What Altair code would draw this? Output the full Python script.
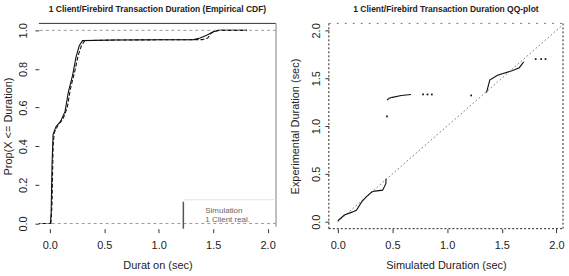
import altair as alt
import pandas as pd

# Empirical CDF of transaction duration (seconds), simulated vs. measured
sim_x = [-0.10, 0.005, 0.012, 0.02, 0.03, 0.055, 0.10, 0.14, 0.17, 0.21, 0.24, 0.27, 0.30,
         0.60, 1.00, 1.32, 1.38, 1.44, 1.50, 1.55, 1.81]
sim_y = [0.00, 0.00, 0.05, 0.30, 0.46, 0.50, 0.53, 0.58, 0.68, 0.77, 0.86, 0.92, 0.947,
         0.950, 0.951, 0.952, 0.960, 0.975, 0.993, 1.00, 1.00]
real_x = [-0.10, 0.01, 0.02, 0.03, 0.04, 0.075, 0.12, 0.16, 0.19, 0.23, 0.26, 0.29, 0.32,
          0.60, 1.00, 1.40, 1.45, 1.48, 1.52, 1.55, 1.81]
real_y = [0.00, 0.00, 0.10, 0.40, 0.47, 0.51, 0.54, 0.60, 0.70, 0.79, 0.87, 0.92, 0.947,
          0.950, 0.951, 0.952, 0.960, 0.985, 0.997, 1.00, 1.00]
legend_labels = ["Simulation", "1 Client real."]

# QQ-plot: simulated quantiles (x) against experimental quantiles (y)
qq_low_x = [0.00, 0.06, 0.13, 0.17, 0.22, 0.26, 0.31, 0.34, 0.41, 0.44, 0.44]
qq_low_y = [0.01, 0.07, 0.10, 0.12, 0.21, 0.26, 0.31, 0.32, 0.33, 0.40, 0.45]
qq_upper_x = [0.45, 0.47, 0.50, 0.58, 0.67]
qq_upper_y = [1.27, 1.29, 1.30, 1.32, 1.33]
qq_mid_x = [1.36, 1.39, 1.46, 1.60, 1.66, 1.70]
qq_mid_y = [1.35, 1.48, 1.53, 1.58, 1.61, 1.67]
qq_dot_x = [0.45, 0.78, 0.82, 0.86, 1.22, 1.81, 1.86, 1.90]
qq_dot_y = [1.10, 1.33, 1.33, 1.33, 1.32, 1.70, 1.70, 1.70]
identity = [0.0, 2.05]

FONT = "Liberation Sans"
LW, RW, H = 238, 235, 206

ecdf_x = alt.Scale(domain=[-0.1006, 2.077], nice=False, zero=False)
ecdf_y = alt.Scale(domain=[-0.027, 1.036], nice=False, zero=False)
qq_xs = alt.Scale(domain=[-0.082, 2.06], nice=False, zero=False)
qq_ys = alt.Scale(domain=[-0.073, 2.073], nice=False, zero=False)


def xaxis(title, vals):
    return alt.Axis(title=title, values=vals, format=".1f", labelPadding=7,
                    titlePadding=9)


def yaxis(title, vals, lp, tp):
    return alt.Axis(title=title, values=vals, format=".1f", labelAngle=270,
                    labelAlign="center", labelBaseline="bottom", labelPadding=lp,
                    titlePadding=tp)


# shared encodings for the ECDF panel
EX = alt.X("d:Q", scale=ecdf_x, axis=xaxis("Durat on (sec)", [0, 0.5, 1, 1.5, 2]))
EY = alt.Y("p:Q", scale=ecdf_y,
           axis=yaxis("Prop(X <= Duration)", [0, 0.2, 0.4, 0.6, 0.8, 1.0], 6, 4))

ecdf_df = pd.concat([
    pd.DataFrame({"d": sim_x, "p": sim_y, "s": legend_labels[0]}),
    pd.DataFrame({"d": real_x, "p": real_y, "s": legend_labels[1]}),
])
base_l = alt.Chart(ecdf_df)

sim_line = base_l.transform_filter(alt.datum.s == legend_labels[0]).mark_line(
    color="#111", strokeWidth=1.1
).encode(x=EX, y=EY, order="d:Q")
real_line = base_l.transform_filter(alt.datum.s == legend_labels[1]).mark_line(
    color="#111", strokeWidth=1.1, strokeDash=[4, 2]
).encode(x=EX, y=EY, order="d:Q")

# horizontal guides at P = 0 and P = 1
ref_l = alt.Chart(pd.DataFrame({"p": [0.0, 1.0]})).mark_rule(
    color="#9a9a9a", strokeDash=[3, 3], strokeWidth=1
).encode(y=EY)

one = pd.DataFrame({"k": [0]})
frame_top = alt.Chart(one).mark_rule(color="#333", strokeWidth=1).encode(
    x=alt.value(0), x2=alt.value(LW), y=alt.value(0))
frame_right = alt.Chart(one).mark_rule(color="#aaa", strokeWidth=1.5).encode(
    x=alt.value(LW), y=alt.value(0), y2=alt.value(H - 2))
leg_edge = alt.Chart(one).mark_rule(color="#555", strokeWidth=1.5).encode(
    x=alt.value(145), y=alt.value(179), y2=alt.value(H))
leg_top = alt.Chart(one).mark_rule(color="#e4e4e4", strokeWidth=1).encode(
    x=alt.value(145), x2=alt.value(LW), y=alt.value(177))
leg_text = [
    alt.Chart(pd.DataFrame({"t": [lab]})).mark_text(
        align="left", baseline="middle", font=FONT, fontSize=8, color="#666"
    ).encode(text="t:N", x=alt.value(167), y=alt.value(yy))
    for lab, yy in zip(legend_labels, [188, 197])
]

left = alt.layer(sim_line, real_line, ref_l, frame_top, frame_right, leg_edge, leg_top,
                 *leg_text).properties(
    width=LW, height=H,
    title=alt.TitleParams("1 Client/Firebird Transaction Duration (Empirical CDF)",
                          font=FONT, fontSize=8.5, fontWeight="bold", color="#222",
                          offset=9, anchor="middle"),
)

# QQ panel
def seg(xs, ys, name):
    return pd.DataFrame({"sim": xs, "exp": ys, "g": name})

qq_lines = pd.concat([seg(qq_low_x, qq_low_y, "low"), seg(qq_upper_x, qq_upper_y, "upper"),
                      seg(qq_mid_x, qq_mid_y, "mid")])
QX = alt.X("sim:Q", scale=qq_xs, axis=xaxis("Simulated Duration (sec)", [0, 0.5, 1, 1.5, 2]))
QY = alt.Y("exp:Q", scale=qq_ys,
           axis=yaxis("Experimental Duration (sec)", [0, 0.5, 1, 1.5, 2], 3, 10))

ident = alt.Chart(pd.DataFrame({"sim": identity, "exp": identity})).mark_line(
    color="#222", strokeWidth=1, strokeDash=[1, 3]
).encode(x=QX, y=QY)
curves = alt.Chart(qq_lines).mark_line(color="#111", strokeWidth=1.1).encode(
    x=QX, y=QY, detail="g:N")
dots = alt.Chart(pd.DataFrame({"sim": qq_dot_x, "exp": qq_dot_y})).mark_square(
    color="#111", size=3, opacity=1
).encode(x=QX, y=QY)

b_left = alt.Chart(one).mark_rule(color="#222", strokeDash=[2, 2]).encode(
    x=alt.value(0), y=alt.value(0), y2=alt.value(H))
b_right = alt.Chart(one).mark_rule(color="#222", strokeDash=[2, 2]).encode(
    x=alt.value(RW), y=alt.value(0), y2=alt.value(H))
b_bottom = alt.Chart(one).mark_rule(color="#222", strokeDash=[2, 2]).encode(
    x=alt.value(0), x2=alt.value(RW), y=alt.value(H))
b_top = alt.Chart(one).mark_rule(color="#777", strokeDash=[2, 6]).encode(
    x=alt.value(0), x2=alt.value(RW), y=alt.value(0))

right = alt.layer(ident, curves, dots, b_left, b_right, b_bottom, b_top).properties(
    width=RW, height=H,
    title=alt.TitleParams("1 Client/Firebird Transaction Duration QQ-plot",
                          font=FONT, fontSize=8.5, fontWeight="bold", color="#222",
                          offset=9, anchor="middle"),
)

chart = alt.hconcat(left, right, spacing=53, bounds="flush").properties(
    padding={"left": 2, "top": 4, "right": 4, "bottom": 2},
    background="white",
).configure_view(strokeWidth=0).configure_axis(
    grid=False, domain=False, labelFont=FONT, titleFont=FONT, labelFontSize=11,
    titleFontSize=11, titleFontWeight="normal", labelColor="#222", titleColor="#222",
    tickColor="#333", tickSize=4,
)

chart.save("out.html", embed_options={"renderer": "svg", "actions": False})
